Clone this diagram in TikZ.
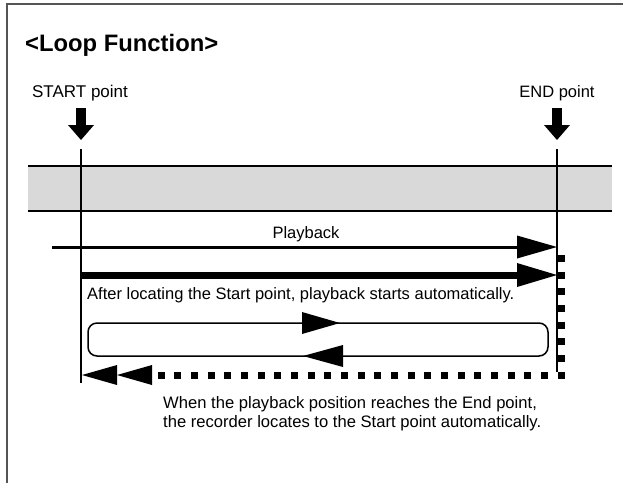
\documentclass[tikz,border=0pt]{standalone}
\usepackage{fontspec}
\setmainfont{Liberation Sans}
\usetikzlibrary{arrows.meta}
\definecolor{bandgray}{HTML}{D9D9D9}
\definecolor{framegray}{HTML}{555555}
\begin{document}
\begin{tikzpicture}[x=1pt,y=-1pt,
  framestyle/.style={draw=framegray,line width=1.8pt},
  lbl/.style={inner sep=0pt,font=\fontsize{16.5}{19}\selectfont},
  titlestyle/.style={inner sep=0pt,font=\bfseries\fontsize{23.8}{28}\selectfont},
  bigdown/.style={line width=10pt,-{Triangle[length=15pt,width=26pt,line width=0pt]}},
  vline/.style={line width=1.5pt},
  bandline/.style={line width=1.5pt},
  thinarrow/.style={line width=3pt,-{Triangle[length=40pt,width=23pt,line width=0pt]}},
  thickarrow/.style={line width=7pt,-{Triangle[length=40pt,width=24pt,line width=0pt]}},
  loopbox/.style={line width=1.5pt,rounded corners=9pt},
  dotline/.style={line width=7pt,dash pattern=on 7pt off 9.67pt,line cap=butt}
]
\useasboundingbox (0,0) rectangle (623,483);
% frame
\draw[framestyle] (7,483) -- (7,4) -- (623,4);
% title
\node[titlestyle,anchor=west] (title) at (25,45) {<Loop Function>};
% point labels
\node[lbl,font=\fontsize{17}{20}\selectfont] (startlbl) at (80,93) {START point};
\node[lbl] (endlbl) at (557,93) {END point};
% coordinates
\coordinate (sa1) at (81,108); \coordinate (sa2) at (81,140);
\coordinate (ea1) at (557,108); \coordinate (ea2) at (557,140);
\coordinate (stop) at (81,149); \coordinate (sbot) at (81,383);
\coordinate (etop) at (557,149); \coordinate (ebot) at (557,372);
% band
\fill[bandgray] (28,166) rectangle (612,211);
\draw[bandline] (28,166) -- (612,166);
\draw[bandline] (28,211) -- (612,211);
% big down arrows
\draw[bigdown] (sa1) -- (sa2);
\draw[bigdown] (ea1) -- (ea2);
% vertical lines
\draw[vline] (stop) -- (sbot);
\draw[vline] (etop) -- (ebot);
% playback arrows
\coordinate (p1l) at (52,247); \coordinate (p1r) at (557,247);
\coordinate (p2l) at (81,275); \coordinate (p2r) at (557,275);
\draw[thinarrow] (p1l) -- (p1r);
\node[lbl] (pblbl) at (306,234) {Playback};
\draw[thickarrow] (p2l) -- (p2r);
\node[lbl,anchor=west] (afterlbl) at (87,295) {After locating the Start point, playback starts automatically.};
% loop box
\draw[loopbox] (88,323) rectangle (548,356);
\fill (302,312) -- (340,323) -- (302,334) -- cycle;
\fill (343,345) -- (303,356) -- (343,367) -- cycle;
% dotted return
\coordinate (dtop) at (561.5,255); \coordinate (dcorner) at (561.5,375); \coordinate (dend) at (152,375);
\draw[dotline] (dtop) -- (dcorner) -- (dend);
\fill (82,375) -- (117,365) -- (117,385) -- cycle;
\fill (117,375) -- (152,365) -- (152,385) -- cycle;
% bottom text
\node[lbl,anchor=north west,align=left,font=\fontsize{16.6}{19}\selectfont] (whenlbl) at (163,396) {When the playback position reaches the End point,\\the recorder locates to the Start point automatically.};
\end{tikzpicture}
\end{document}
